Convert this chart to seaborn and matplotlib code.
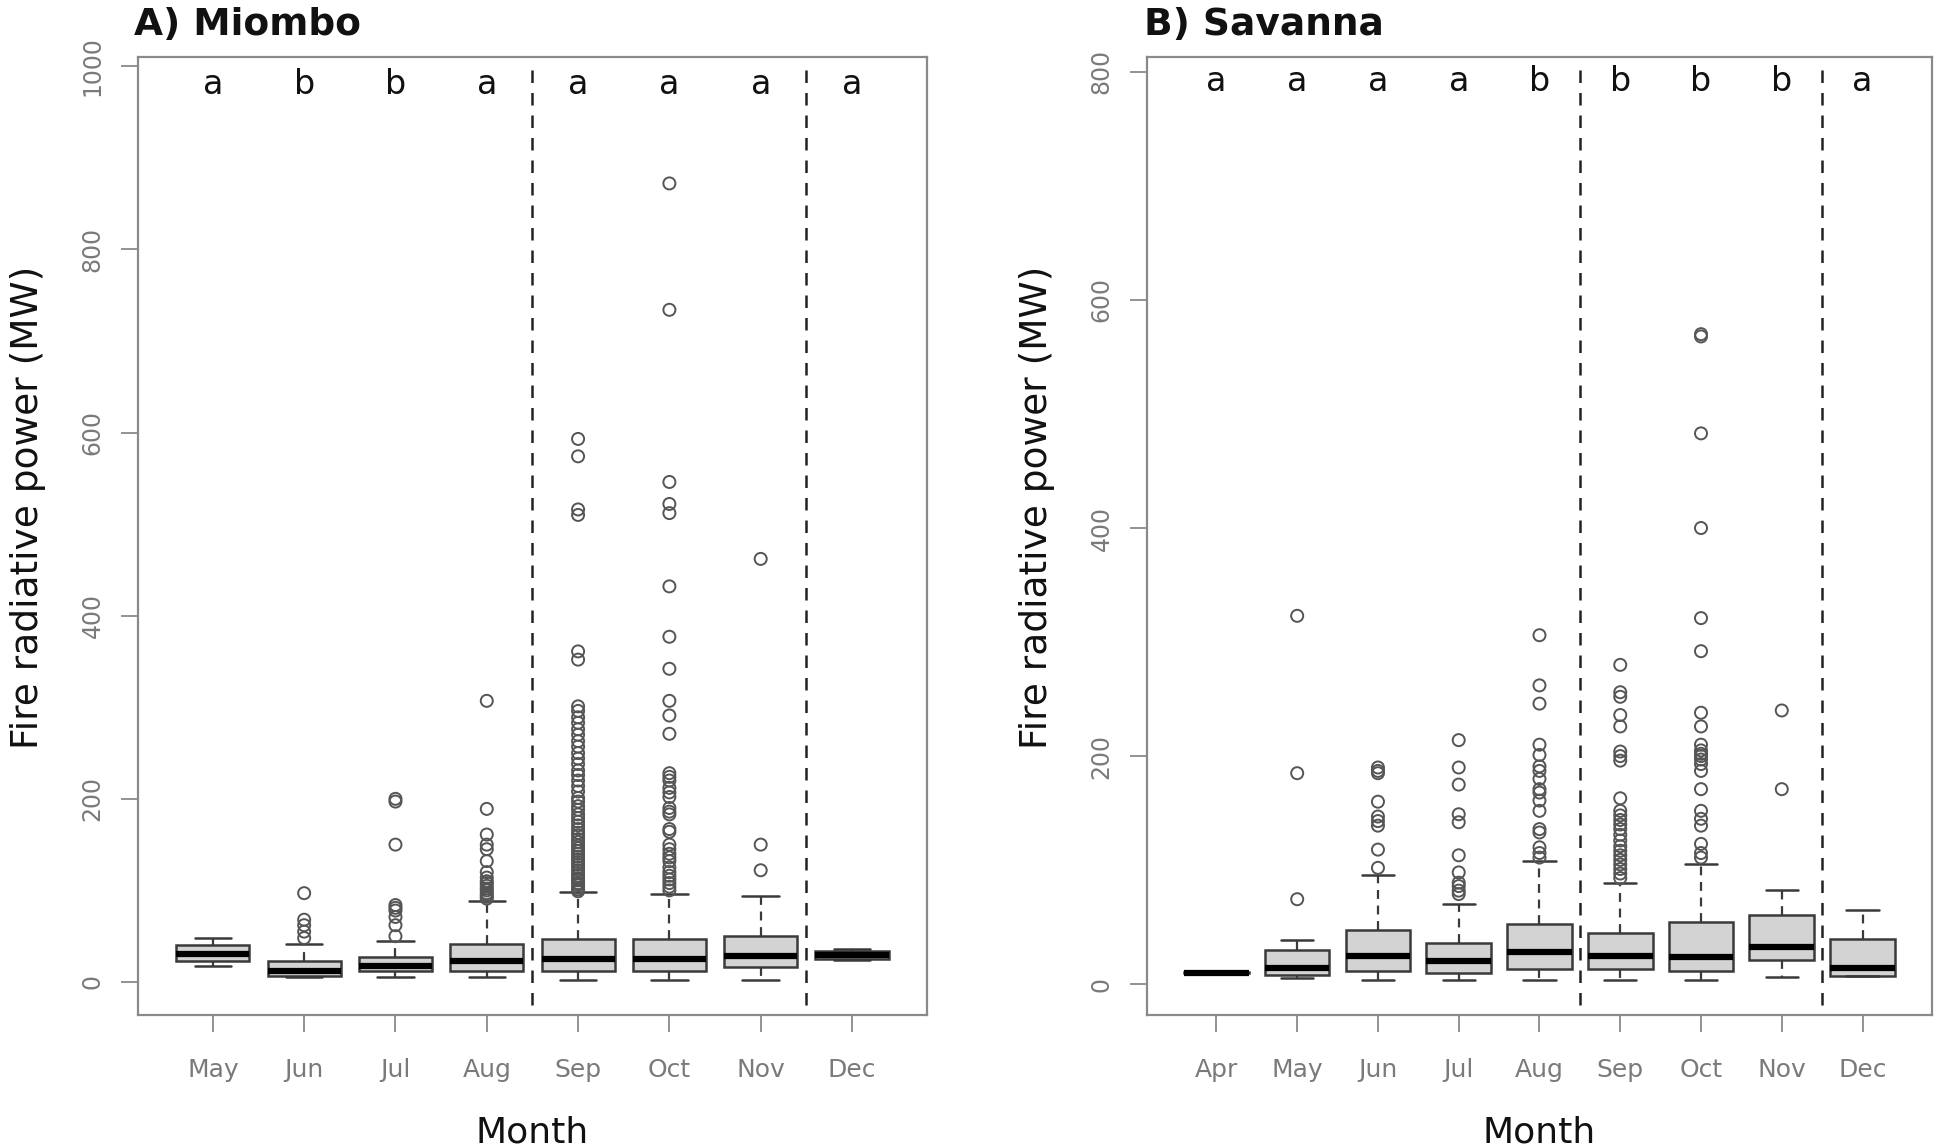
import numpy as np
import pandas as pd
import matplotlib
matplotlib.use("Agg")
import matplotlib.pyplot as plt
import seaborn as sns

# ---------------- data ----------------
miombo_months = ["May", "Jun", "Jul", "Aug", "Sep", "Oct", "Nov", "Dec"]
miombo_whislo = [17, 5, 5, 5, 2, 2, 2, 24]
miombo_q1 = [23, 6.5, 12, 12, 12, 12, 16, 25]
miombo_med = [31, 12, 17.5, 23, 25, 25, 28, 29]
miombo_q3 = [40, 23, 27, 42, 47, 47, 50, 34]
miombo_whishi = [48, 42, 45, 88, 98, 96, 94, 36]
miombo_outliers = [
    [],
    [97, 68, 62, 55, 48],
    [200, 197, 150, 84, 81, 78, 71, 62, 50],
    [307, 189, 161, 150, 145, 132, 120, 114, 110, 108, 105, 102, 100, 97, 95, 93, 91],
    [593, 574, 516, 510, 361, 352, 301, 296, 289, 283, 276, 270, 263, 257, 250, 244,
     238, 231, 226, 220, 214, 208, 201, 197, 192, 188, 183, 179, 175, 171, 167, 163,
     160, 156, 153, 149, 146, 143, 140, 137, 134, 131, 128, 125, 122, 119, 116, 113,
     111, 108, 106, 103, 101, 99],
    [872, 734, 546, 522, 512, 432, 377, 342, 307, 291, 271, 228, 224, 220, 212, 207,
     202, 190, 186, 183, 167, 164, 150, 145, 140, 136, 132, 125, 120, 116, 112, 108,
     104, 100],
    [462, 150, 122],
    [],
]
miombo_letters = ["a", "b", "b", "a", "a", "a", "a", "a"]

savanna_months = ["Apr", "May", "Jun", "Jul", "Aug", "Sep", "Oct", "Nov", "Dec"]
savanna_whislo = [9.5, 5, 4, 4, 4, 4, 4, 6, 7]
savanna_q1 = [9.5, 8, 11.7, 10, 13, 13, 11.7, 21, 7]
savanna_med = [10, 14.6, 24.8, 20.4, 28.6, 24.8, 24, 32.7, 14.6]
savanna_q3 = [10.5, 30, 47.6, 36, 52.5, 44.7, 54.6, 60.4, 39.4]
savanna_whishi = [10.5, 39, 95.5, 70, 108, 89, 105, 82.6, 65]
savanna_outliers = [
    [],
    [323, 185, 74.5],
    [190, 187, 185, 160, 147, 143, 139, 118, 102],
    [214, 190, 175, 149, 142, 113, 98, 89, 86, 82, 79],
    [306, 262, 246, 210, 201, 191, 187, 180, 171, 168, 161, 152, 136, 133, 120, 115, 111],
    [280, 256, 252, 236, 226, 204, 200, 196, 163, 152, 148, 144, 140, 136, 131, 126,
     121, 117, 113, 109, 105, 101, 97, 93],
    [570, 568, 483, 400, 321, 292, 238, 226, 210, 205, 202, 200, 197, 193, 187, 171,
     152, 145, 139, 123, 115, 111],
    [240, 171],
    [],
]
savanna_letters = ["a", "a", "a", "a", "b", "b", "b", "b", "a"]

# ---------------- style ----------------
sns.set_theme(style="white")
plt.rcParams["font.family"] = ["DejaVu Sans"]

BOX_FILL = "#d3d3d3"
EDGE = "#3a3a3a"
AXCOL = "#8a8a8a"
TICKLAB = "#7a7a7a"

fig = plt.figure(figsize=(19.46, 11.48), dpi=100)
axA = fig.add_axes([0.0709, 0.1159, 0.4054, 0.8344])
axB = fig.add_axes([0.5894, 0.1159, 0.4034, 0.8344])


def draw_panel(ax, months, wlo, q1, med, q3, whi, outliers, letters,
               ylim, yticks, letter_y, dashed_after, xpad):
    n = len(months)
    stats = []
    for i in range(n):
        stats.append(dict(med=med[i], q1=q1[i], q3=q3[i], whislo=wlo[i],
                          whishi=whi[i], fliers=[], label=months[i]))
    ax.bxp(stats, positions=list(range(n)), widths=0.8, capwidths=0.4,
           patch_artist=True, showfliers=False,
           boxprops=dict(facecolor=BOX_FILL, edgecolor=EDGE, linewidth=1.8),
           medianprops=dict(color="black", linewidth=4.5, solid_capstyle="butt"),
           whiskerprops=dict(color=EDGE, linewidth=1.6, linestyle=(0, (4, 3))),
           capprops=dict(color=EDGE, linewidth=1.8))

    # outliers drawn with seaborn
    xs, ys = [], []
    for i, vals in enumerate(outliers):
        for v in vals:
            xs.append(i)
            ys.append(v)
    df = pd.DataFrame({"pos": xs, "frp": ys})
    sns.scatterplot(data=df, x="pos", y="frp", ax=ax, marker="o", s=75,
                    facecolor="none", edgecolor="#555555", linewidth=1.4,
                    legend=False, zorder=3)

    for xv in dashed_after:
        ax.axvline(xv, color="#222222", linewidth=1.8, linestyle=(0, (5, 4)),
                   ymin=0.01, ymax=0.99)

    for i, lab in enumerate(letters):
        ax.text(i, letter_y, lab, ha="center", va="center", fontsize=24,
                color="#111111")

    ax.set_xlim(-xpad, n - 1 + xpad)
    ax.set_ylim(*ylim)
    ax.set_yticks(yticks)
    ax.set_yticklabels([str(t) for t in yticks], rotation=90, va="center",
                       color=TICKLAB, fontsize=17)
    ax.set_xticks(list(range(n)))
    ax.set_xticklabels(months, color=TICKLAB, fontsize=18)
    ax.tick_params(axis="both", direction="out", length=12, width=1.3,
                   color=AXCOL, left=True, bottom=True)
    ax.tick_params(axis="y", pad=12)
    ax.tick_params(axis="x", pad=19)
    for sp in ax.spines.values():
        sp.set_color(AXCOL)
        sp.set_linewidth(1.6)
        sp.set_visible(True)
    ax.set_xlabel("Month", fontsize=26, labelpad=24, color="#111111")
    ax.set_ylabel("Fire radiative power (MW)", fontsize=27, labelpad=25,
                  color="#111111")
    ax.yaxis.label.set_y(0.53)
    ax.grid(False)


draw_panel(axA, miombo_months, miombo_whislo, miombo_q1, miombo_med, miombo_q3,
           miombo_whishi, miombo_outliers, miombo_letters,
           ylim=(-36, 1010), yticks=[0, 200, 400, 600, 800, 1000],
           letter_y=980, dashed_after=[3.5, 6.5], xpad=0.82)
draw_panel(axB, savanna_months, savanna_whislo, savanna_q1, savanna_med, savanna_q3,
           savanna_whishi, savanna_outliers, savanna_letters,
           ylim=(-27, 813), yticks=[0, 200, 400, 600, 800],
           letter_y=792, dashed_after=[4.5, 7.5], xpad=0.86)

fig.text(134 / 1946, 1 - 25 / 1148, "A) Miombo", fontsize=27, fontweight="bold",
         ha="left", va="center", color="#111111")
fig.text(1144 / 1946, 1 - 25 / 1148, "B) Savanna", fontsize=27, fontweight="bold",
         ha="left", va="center", color="#111111")

fig.savefig("out.png", dpi=100)
